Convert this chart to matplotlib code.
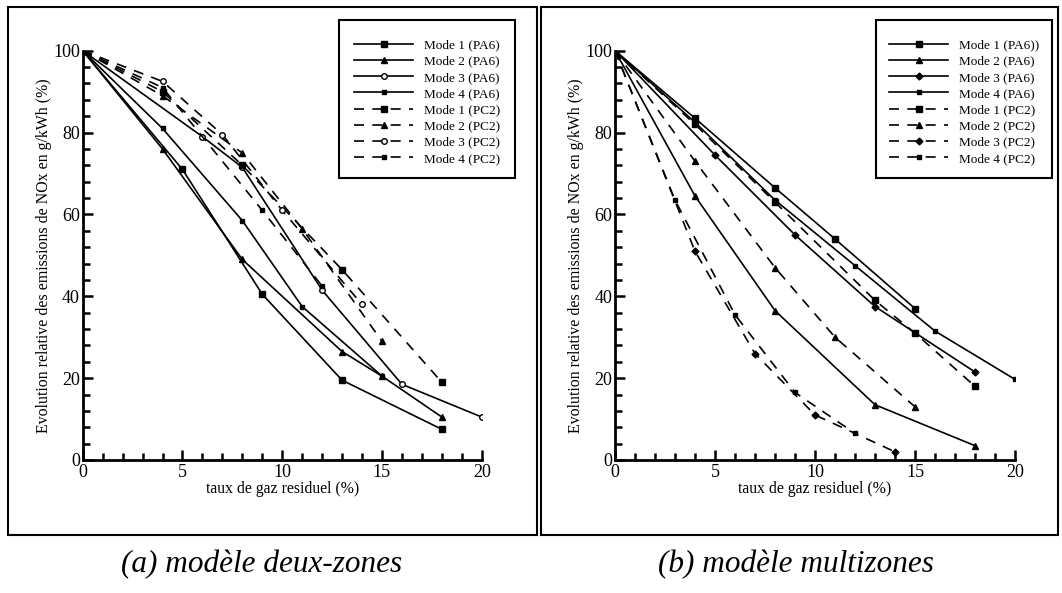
import matplotlib.pyplot as plt
from matplotlib.patches import Rectangle
from matplotlib.ticker import MultipleLocator

plt.rcParams['font.family'] = ['Liberation Serif', 'DejaVu Serif']

# (a) modele deux-zones
a_pa6_m1_x = [0, 5, 9, 13, 18]
a_pa6_m1_y = [100, 71, 40.5, 19.5, 7.5]
a_pa6_m2_x = [0, 4, 8, 13, 15, 18]
a_pa6_m2_y = [100, 76, 49, 26.5, 20.5, 10.5]
a_pa6_m3_x = [0, 6, 8, 12, 16, 20]
a_pa6_m3_y = [100, 79, 71.5, 41.5, 18.5, 10.5]
a_pa6_m4_x = [0, 4, 8, 11, 15]
a_pa6_m4_y = [100, 81, 58.5, 37.5, 20.5]
a_pc2_m1_x = [0, 4, 8, 13, 18]
a_pc2_m1_y = [100, 90, 72, 46.5, 19]
a_pc2_m2_x = [0, 4, 8, 11, 15]
a_pc2_m2_y = [100, 89, 75, 56.5, 29]
a_pc2_m3_x = [0, 4, 7, 10, 14]
a_pc2_m3_y = [100, 92.5, 79.5, 61, 38]
a_pc2_m4_x = [0, 4, 9, 12]
a_pc2_m4_y = [100, 91, 61, 42.5]

# (b) modele multizones
b_pa6_m1_x = [0, 4, 8, 11, 15]
b_pa6_m1_y = [100, 83.5, 66.5, 54, 37]
b_pa6_m2_x = [0, 4, 8, 13, 18]
b_pa6_m2_y = [100, 64.5, 36.5, 13.5, 3.5]
b_pa6_m3_x = [0, 5, 9, 13, 18]
b_pa6_m3_y = [100, 74.5, 55, 37.5, 21.5]
b_pa6_m4_x = [0, 4, 8, 12, 16, 20]
b_pa6_m4_y = [100, 82.5, 63.5, 47.5, 31.5, 19.7]
b_pc2_m1_x = [0, 4, 8, 13, 15, 18]
b_pc2_m1_y = [100, 82, 63, 39, 31, 18]
b_pc2_m2_x = [0, 4, 8, 11, 15]
b_pc2_m2_y = [100, 73, 47, 30, 13]
b_pc2_m3_x = [0, 4, 7, 10, 14]
b_pc2_m3_y = [100, 51, 26, 11, 2]
b_pc2_m4_x = [0, 3, 6, 9, 12]
b_pc2_m4_y = [100, 63.5, 35.5, 16.5, 6.5]

dash = (0, (6, 5))


def style_axes(ax):
    ax.set_xlim(0, 20)
    ax.set_ylim(0, 100)
    ax.spines['top'].set_visible(False)
    ax.spines['right'].set_visible(False)
    ax.spines['left'].set_linewidth(2)
    ax.spines['bottom'].set_linewidth(2)
    ax.xaxis.set_major_locator(MultipleLocator(5))
    ax.xaxis.set_minor_locator(MultipleLocator(1))
    ax.yaxis.set_major_locator(MultipleLocator(20))
    ax.yaxis.set_minor_locator(MultipleLocator(4))
    ax.tick_params(which='both', direction='in', width=1.8, labelsize=13)
    ax.tick_params(which='major', length=7)
    ax.tick_params(which='minor', length=5)
    ax.tick_params(axis='x', pad=3)
    ax.tick_params(axis='y', pad=2)
    ax.set_xlabel('taux de gaz residuel (%)', fontsize=11.3, labelpad=0)
    ax.set_ylabel('Evolution relative des emissions de NOx en g/kWh (%)',
                  fontsize=11.4, labelpad=1)


fig = plt.figure(figsize=(10.62, 5.93), dpi=100)
W, H = 1062, 593


def box(x0, y0, x1, y1, lw=1.5):
    # rectangle en pixels (origine en haut a gauche)
    fig.patches.append(Rectangle((x0 / W, 1 - y1 / H), (x1 - x0) / W,
                                 (y1 - y0) / H, transform=fig.transFigure,
                                 fill=False, edgecolor='black', lw=lw))


# cadres autour des deux figures
box(8, 7, 537, 535)
box(541, 7, 1058, 535)

ax1 = fig.add_axes([82.7 / W, 1 - 460 / H, 399 / W, 409.3 / H])
kw = dict(color='black', lw=1.2, ms=4)
ax1.plot(a_pa6_m1_x, a_pa6_m1_y, '-', marker='s', label='Mode 1 (PA6)', **kw)
ax1.plot(a_pa6_m2_x, a_pa6_m2_y, '-', marker='^', label='Mode 2 (PA6)', **kw)
ax1.plot(a_pa6_m3_x, a_pa6_m3_y, '-', marker='o', mfc='white', label='Mode 3 (PA6)', **kw)
ax1.plot(a_pa6_m4_x, a_pa6_m4_y, '-', marker='s', label='Mode 4 (PA6)', color='black', lw=1.2, ms=3)
ax1.plot(a_pc2_m1_x, a_pc2_m1_y, ls=dash, marker='s', label='Mode 1 (PC2)', **kw)
ax1.plot(a_pc2_m2_x, a_pc2_m2_y, ls=dash, marker='^', label='Mode 2 (PC2)', **kw)
ax1.plot(a_pc2_m3_x, a_pc2_m3_y, ls=dash, marker='o', mfc='white', label='Mode 3 (PC2)', **kw)
ax1.plot(a_pc2_m4_x, a_pc2_m4_y, ls=dash, marker='s', label='Mode 4 (PC2)', color='black', lw=1.2, ms=3)
style_axes(ax1)

ax2 = fig.add_axes([615 / W, 1 - 460 / H, 400 / W, 409.3 / H])
ax2.plot(b_pa6_m1_x, b_pa6_m1_y, '-', marker='s', label='Mode 1 (PA6))', **kw)
ax2.plot(b_pa6_m2_x, b_pa6_m2_y, '-', marker='^', label='Mode 2 (PA6)', **kw)
ax2.plot(b_pa6_m3_x, b_pa6_m3_y, '-', marker='D', label='Mode 3 (PA6)', color='black', lw=1.2, ms=3.5)
ax2.plot(b_pa6_m4_x, b_pa6_m4_y, '-', marker='s', label='Mode 4 (PA6)', color='black', lw=1.2, ms=3)
ax2.plot(b_pc2_m1_x, b_pc2_m1_y, ls=dash, marker='s', label='Mode 1 (PC2)', **kw)
ax2.plot(b_pc2_m2_x, b_pc2_m2_y, ls=dash, marker='^', label='Mode 2 (PC2)', **kw)
ax2.plot(b_pc2_m3_x, b_pc2_m3_y, ls=dash, marker='D', label='Mode 3 (PC2)', color='black', lw=1.2, ms=3.5)
ax2.plot(b_pc2_m4_x, b_pc2_m4_y, ls=dash, marker='s', label='Mode 4 (PC2)', color='black', lw=1.2, ms=3)
style_axes(ax2)

# legendes sans cadre, cadre dessine a part
for ax, (x0, x1) in ((ax1, (339, 515)), (ax2, (876, 1052))):
    box(x0, 20, x1, 178)
    ax.legend(loc='center', bbox_to_anchor=((x0 + x1) / 2 / W, 1 - 102 / H),
              bbox_transform=fig.transFigure, fontsize=9.5, numpoints=1,
              handlelength=4.5, labelspacing=0.3, frameon=False)

fig.text(262 / W, 1 - 565 / H, '(a) modèle deux-zones', style='italic',
         fontsize=22.5, ha='center', va='center')
fig.text(796 / W, 1 - 565 / H, '(b) modèle multizones', style='italic',
         fontsize=22.5, ha='center', va='center')

fig.savefig('out.png', dpi=100)
